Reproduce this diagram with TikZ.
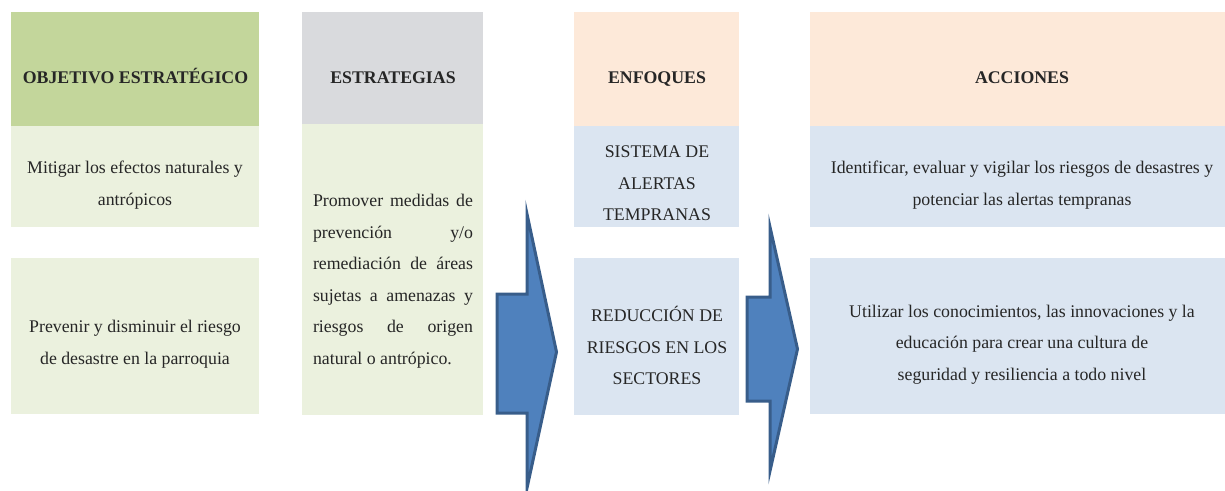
\documentclass[tikz,border=0pt]{standalone}
\usepackage{fontspec}
\setmainfont{Liberation Serif}
\definecolor{hdrgreen}{HTML}{C3D69B}
\definecolor{lightgreen}{HTML}{EBF1DE}
\definecolor{hdrgray}{HTML}{D9DADD}
\definecolor{hdrpeach}{HTML}{FDE9D9}
\definecolor{lightblue}{HTML}{DBE5F1}
\definecolor{arrowfill}{HTML}{4F81BD}
\definecolor{arrowline}{HTML}{385D8A}
\tikzset{
  txt/.style={inner sep=0pt, outer sep=0pt, align=center, text=black!85,
    font=\fontsize{17.8}{31.5}\selectfont},
  hdr/.style={inner sep=0pt, outer sep=0pt, anchor=base, text=black!85,
    font=\fontsize{17.8}{21}\selectfont\bfseries},
  blockarrow/.style={fill=arrowfill, draw=arrowline, line width=3pt, line join=miter}
}
\begin{document}
\begin{tikzpicture}[x=1pt,y=-1pt]
\useasboundingbox (0,0) rectangle (1225,490);
% column 1
\fill[hdrgreen] (11,12) rectangle (259,126);
\fill[lightgreen] (11,126) rectangle (259,227);
\fill[lightgreen] (11,258) rectangle (259,414);
% column 2
\fill[hdrgray] (302,12) rectangle (483,124);
\fill[lightgreen] (302,124) rectangle (483,415);
% column 3
\fill[hdrpeach] (574,12) rectangle (739,126);
\fill[lightblue] (574,126) rectangle (739,227);
\fill[lightblue] (574,258) rectangle (739,415);
% column 4
\fill[hdrpeach] (810,12) rectangle (1225,126);
\fill[lightblue] (810,126) rectangle (1225,227);
\fill[lightblue] (810,258) rectangle (1225,414);

% headers
\node[hdr] (h1) at (135.5,83) {OBJETIVO ESTRATÉGICO};
\node[hdr] (h2) at (393,83) {ESTRATEGIAS};
\node[hdr] (h3) at (657,83) {ENFOQUES};
\node[hdr] (h4) at (1022,83) {ACCIONES};

% texts
\node[txt] (t11) at (135,185) {Mitigar los efectos naturales y\\antrópicos};
\node[txt] (t12) at (135,344) {Prevenir y disminuir el riesgo\\de desastre en la parroquia};
\node[txt, align=left] (t2) at (393,281) {%
  \makebox[160pt][s]{Promover medidas de}\\
  \makebox[160pt][s]{prevención \hfill y/o}\\
  \makebox[160pt][s]{remediación de áreas}\\
  \makebox[160pt][s]{sujetas a amenazas y}\\
  \makebox[160pt][s]{riesgos \hfill de \hfill origen}\\
  natural o antrópico.};
\node[txt] (t31) at (657,183.5) {SISTEMA DE\\ALERTAS\\TEMPRANAS};
\node[txt] (t32) at (657,345.5) {REDUCCIÓN DE\\RIESGOS EN LOS\\SECTORES};
\node[txt] (t41) at (1022,185) {Identificar, evaluar y vigilar los riesgos de desastres y\\potenciar las alertas tempranas};
\node[txt] (t42) at (1022,344.5) {Utilizar los conocimientos, las innovaciones y la\\educación para crear una cultura de\\seguridad y resiliencia a todo nivel};

% block arrows
\draw[blockarrow] (497,294) -- (527,294) -- (527,214) -- (556.5,352) -- (527,488) -- (527,413) -- (497,413) -- cycle;
\draw[blockarrow] (747,297) -- (770,297) -- (770,227) -- (797.5,349) -- (770,471) -- (770,401) -- (747,401) -- cycle;
\end{tikzpicture}
\end{document}
